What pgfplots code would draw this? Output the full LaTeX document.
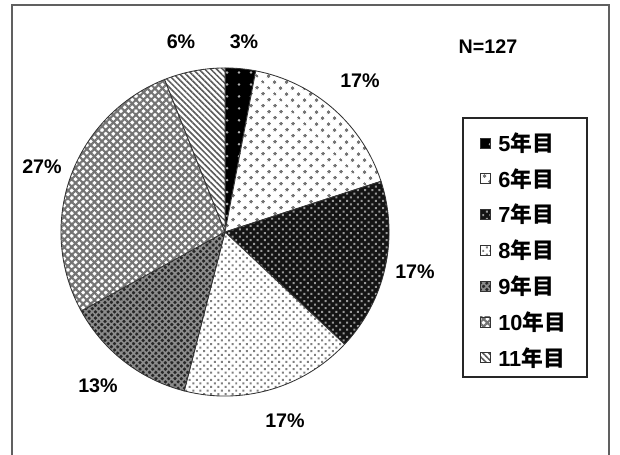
\documentclass[border=0pt]{standalone}
\usepackage{pgfplots}
\pgfplotsset{compat=1.18}
\usepackage{pgfplotstable}
\usetikzlibrary{patterns.meta}
\usepackage{fontspec}
\setmainfont{Liberation Sans}
\newfontfamily\jp{Noto Sans CJK JP}

% share of respondents by year of service (N=127), with label positions
\pgfplotstableread{
year pct lx ly
5  3  244 42
6  17 360 81
7  17 415 272
8  17 285 421
9  13 98  386
10 27 42  167
11 6  181 42
}\piedata

% slice angles: clockwise from 12 o'clock
\def\cum{0}
\pgfplotsforeachungrouped \i in {0,...,6}{%
  \pgfplotstablegetelem{\i}{pct}\of\piedata
  \let\p\pgfplotsretval
  \pgfmathsetmacro\a{90-3.6*\cum}%
  \pgfmathsetmacro\cum{\cum+\p}%
  \pgfmathsetmacro\b{90-3.6*\cum}%
  \expandafter\xdef\csname sa\i\endcsname{\a}%
  \expandafter\xdef\csname ea\i\endcsname{\b}%
  \expandafter\xdef\csname pc\i\endcsname{\p}%
  \pgfplotstablegetelem{\i}{year}\of\piedata
  \expandafter\xdef\csname yr\i\endcsname{\pgfplotsretval}%
  \pgfplotstablegetelem{\i}{lx}\of\piedata
  \expandafter\xdef\csname lx\i\endcsname{\pgfplotsretval}%
  \pgfplotstablegetelem{\i}{ly}\of\piedata
  \pgfmathsetmacro\yy{455-\pgfplotsretval}%
  \expandafter\xdef\csname ly\i\endcsname{\yy}%
  \pgfmathsetmacro\yy{455-(143+35.8*\i)}%
  \expandafter\xdef\csname gy\i\endcsname{\yy}%
}

\tikzset{
  slice0/.style={preaction={fill=black}, pattern={Dots[distance=8.5pt,radius=1pt]}, pattern color=gray!60},
  slice1/.style={preaction={fill=white}, pattern={Dots[distance=6.4pt,radius=1.3pt,angle=45]}, pattern color=black!55},
  slice2/.style={preaction={fill=black!92}, pattern={Dots[distance=3.6pt,radius=1pt,angle=45]}, pattern color=black!40},
  slice3/.style={preaction={fill=white}, pattern={Dots[distance=3.6pt,radius=1pt,angle=45]}, pattern color=black!50},
  slice4/.style={preaction={fill=black!85}, pattern={Hatch[distance=3.2pt,line width=1.2pt,angle=45]}, pattern color=black!45},
  slice5/.style={preaction={fill=white}, pattern={Hatch[distance=3.8pt,line width=1.5pt,angle=45]}, pattern color=black!55},
  slice6/.style={preaction={fill=white}, pattern={Lines[distance=3pt,line width=1.1pt,angle=-45]}, pattern color=black!65},
  lab/.style={font=\bfseries\fontsize{14}{16}\selectfont},
  leg/.style={font=\bfseries\fontsize{15.5}{17}\selectfont},
}

\begin{document}
\begin{tikzpicture}
\begin{axis}[
  x=0.025cm, y=0.025cm,
  xmin=0, xmax=620, ymin=0, ymax=455,
  hide axis, clip=false,
]
\coordinate (bl) at (axis cs:0,0);
\coordinate (tr) at (axis cs:620,455);
% chart frame
\draw[gray!75!black, line width=1.2pt] (axis cs:12,0) -- (axis cs:12,450) -- (axis cs:609,450) -- (axis cs:609,0);

% pie slices and value labels
\pgfplotsinvokeforeach{0,...,6}{
  \path[slice#1, draw=black!80, line width=0.6pt] (axis cs:225,223)
     -- ++(\csname sa#1\endcsname:4.1cm)
     arc[start angle=\csname sa#1\endcsname, end angle=\csname ea#1\endcsname, radius=4.1cm]
     -- cycle;
  \node[lab] at (axis cs:\csname lx#1\endcsname,\csname ly#1\endcsname) {\csname pc#1\endcsname\%};
}

\node[lab] at (axis cs:488,408) {N=127};

% legend
\draw[black!85, line width=0.9pt] (axis cs:463,337) rectangle (axis cs:587,78);
\pgfplotsinvokeforeach{0,...,6}{
  \path[slice#1, draw=black!80, line width=0.5pt]
     (axis cs:480,\csname gy#1\endcsname) ++(0,-0.125cm) rectangle ++(0.25cm,0.25cm);
  \node[leg, anchor=west, inner sep=0pt] at (axis cs:498,\csname gy#1\endcsname)
     {\csname yr#1\endcsname{\jp 年目}};
}
\end{axis}
\pgfresetboundingbox
\path[use as bounding box] (bl) rectangle (tr);
\end{tikzpicture}
\end{document}
